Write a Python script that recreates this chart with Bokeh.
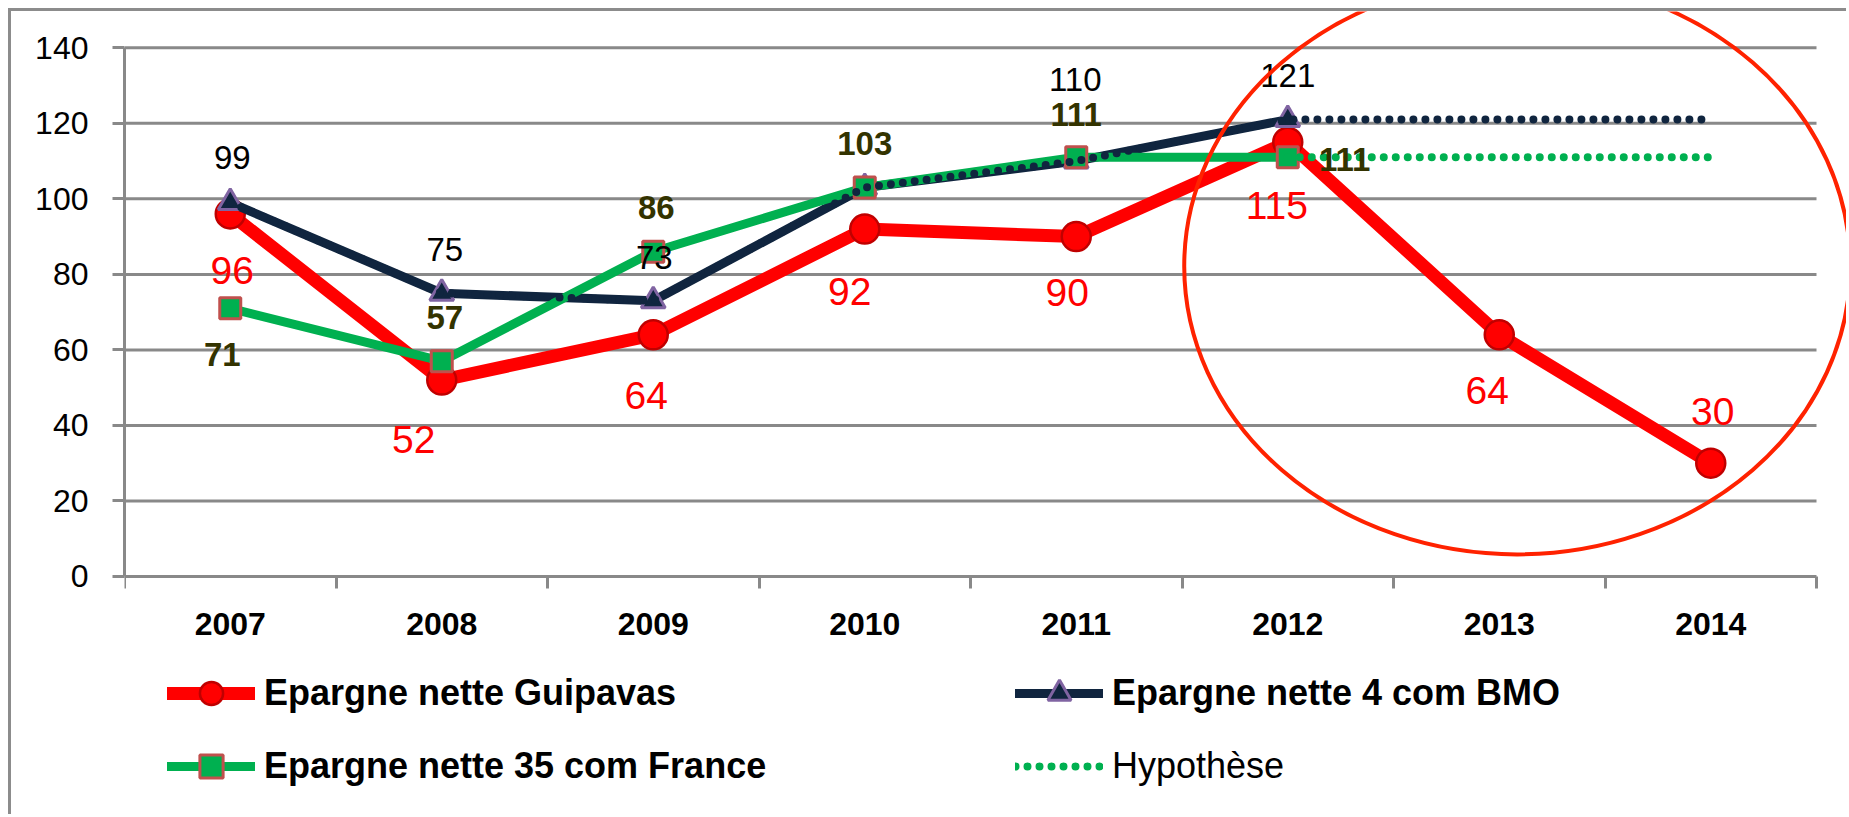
from bokeh.plotting import figure
from bokeh.models import Range1d, FixedTicker, Legend, LegendItem
from bokeh.core.properties import value
from bokeh.embed import file_html
from bokeh.resources import INLINE

# ---------------- data ----------------
years = ["2007", "2008", "2009", "2010", "2011", "2012", "2013", "2014"]
y_ticks = [0, 20, 40, 60, 80, 100, 120, 140]
guipavas = [96, 52, 64, 92, 90, 115, 64, 30]          # Epargne nette Guipavas
bmo4 = [99, 75, 73, 103, 110, 121]                    # Epargne nette 4 com BMO (2007-2012)
france35 = [71, 57, 86, 103, 111, 111]                # Epargne nette 35 com France (2007-2012)
hyp_years = ["2012", "2013", "2014"]
hyp_bmo4 = [121, 121, 121]                            # Hypothèse BMO
hyp_france35 = [111, 111, 111]                        # Hypothèse France
labels = ["Epargne nette Guipavas", "Epargne nette 4 com BMO",
          "Epargne nette 35 com France", "Hypothèse"]

# ---------------- styles ----------------
FONT = "Liberation Sans"
GRID = "#898989"
RED, RED_EDGE = "#FF0000", "#C00000"
NAVY, NAVY_EDGE = "#10253F", "#8064A2"
GREEN, GREEN_EDGE = "#00B050", "#C0504D"
OLIVE = "#333300"
W, H = 1838, 806

idx = {y: i for i, y in enumerate(years)}
xpos = [i + 0.5 for i in range(len(years))]
x_b = xpos[:len(bmo4)]
x_f = xpos[:len(france35)]
x_h = [idx[y] + 0.5 for y in hyp_years]

p = figure(width=W, height=H, output_backend="svg", toolbar_location=None,
           x_range=Range1d(0, 8.156), y_range=Range1d(-63.82, 149.61),
           min_border_left=113, min_border_right=0, min_border_top=0,
           min_border_bottom=0)
p.styles = {"margin-left": "8px", "margin-top": "8px",
            "border-left": "3px solid #8c8c8c", "border-top": "3px solid #8c8c8c"}
p.outline_line_color = None
p.background_fill_color = "white"
p.border_fill_color = "white"
p.xgrid.visible = False
p.ygrid.visible = False

# x axis at y = 0: labels at category centres, minor ticks at category boundaries
xa = p.xaxis[0]
xa.fixed_location = 0
xa.ticker = FixedTicker(ticks=xpos, minor_ticks=list(range(len(years) + 1)))
xa.major_label_overrides = {x: y for x, y in zip(xpos, years)}
xa.bounds = (0, len(years))
xa.axis_line_color = GRID
xa.axis_line_width = 3
xa.major_tick_line_color = None
xa.major_tick_out = 0
xa.major_tick_in = 0
xa.minor_tick_line_color = GRID
xa.minor_tick_line_width = 3
xa.minor_tick_out = 12
xa.minor_tick_in = 0
xa.major_label_text_font = FONT
xa.major_label_text_font_size = "32px"
xa.major_label_text_font_style = "bold"
xa.major_label_text_color = "black"
xa.major_label_standoff = 25

ya = p.yaxis[0]
ya.ticker = FixedTicker(ticks=y_ticks, minor_ticks=[])
ya.bounds = (0, 140)
ya.axis_line_color = GRID
ya.axis_line_width = 3
ya.major_tick_line_color = GRID
ya.major_tick_line_width = 3
ya.major_tick_out = 12
ya.major_tick_in = 0
ya.minor_tick_line_color = None
ya.major_label_text_font = FONT
ya.major_label_text_font_size = "32px"
ya.major_label_text_color = "black"
ya.major_label_standoff = 24

# horizontal gridlines across the category span
gl = y_ticks[1:]
p.segment(x0=[0] * len(gl), y0=gl, x1=[len(years)] * len(gl), y1=gl,
          line_color=GRID, line_width=3)

# ---------------- series ----------------
r_line = p.line(xpos, guipavas, line_color=RED, line_width=13, line_join="round", line_cap="round")
r_sc = p.scatter(xpos, guipavas, marker="circle", size=29, fill_color=RED,
                 line_color=RED_EDGE, line_width=2.5)

b_line = p.line(x_b, bmo4, line_color=NAVY, line_width=9, line_join="round", line_cap="round")
b_sc = p.scatter(x_b, bmo4, marker="triangle", size=24, fill_color=NAVY,
                 line_color=NAVY_EDGE, line_width=3)

g_line = p.line(x_f, france35, line_color=GREEN, line_width=9, line_join="round", line_cap="round")
g_sc = p.scatter(x_f, france35, marker="square", size=21, fill_color=GREEN,
                 line_color=GREEN_EDGE, line_width=3)

# hypothesis (dotted) lines
bmo_full = bmo4 + hyp_bmo4[1:]
p.line(xpos, bmo_full, line_color=NAVY, line_width=8, line_dash="0 12", line_cap="round")
h_line = p.line(x_h, hyp_france35, line_color=GREEN, line_width=8, line_dash="0 12",
                line_cap="round")

# ---------------- data labels ----------------
red_dx = [2, -28, -7, -15, -9, -11, -12, 2]
red_dy = [57, 59, 61, 62, 56, 63, 56, -52]
p.text(x=xpos, y=guipavas, text=[str(v) for v in guipavas],
       x_offset=red_dx, y_offset=red_dy, text_align="center", text_baseline="middle",
       text_font=value(FONT), text_font_size="39px", text_color=RED)

b_show = [0, 1, 2, 4, 5]
b_dx = [2, 3, 1, -1, 0]
b_dy = [-45, -44, -43, -82, -44]
p.text(x=[x_b[i] for i in b_show], y=[bmo4[i] for i in b_show],
       text=[str(bmo4[i]) for i in b_show], x_offset=b_dx, y_offset=b_dy,
       text_align="center", text_baseline="middle",
       text_font=value(FONT), text_font_size="33px", text_color="black")

g_dx = [-8, 3, 3, 0, 0, 57]
g_dy = [46, -44, -44, -44, -43, 2]
p.text(x=x_f, y=france35, text=[str(v) for v in france35],
       x_offset=g_dx, y_offset=g_dy, text_align="center", text_baseline="middle",
       text_font=value(FONT), text_font_size="33px", text_font_style="bold",
       text_color=OLIVE)

# highlight ellipse around the 2012-2014 period
p.ellipse(x=[6.585], y=[82.15], width=[3.149], height=[152.6],
          fill_color=None, line_color="#FF2200", line_width=4)

# ---------------- legends ----------------
def make_legend(items, loc, style="bold"):
    return Legend(items=items, location=loc, orientation="vertical",
                  glyph_width=88, glyph_height=58, label_height=58, spacing=15,
                  padding=0, margin=0, label_standoff=9,
                  background_fill_alpha=0, border_line_color=None,
                  label_text_font=FONT, label_text_font_size="36px",
                  label_text_font_style=style, label_text_color="black")

leg_a = make_legend([LegendItem(label=labels[0], renderers=[r_line, r_sc]),
                     LegendItem(label=labels[2], renderers=[g_line, g_sc])], (43, 22))
leg_b = make_legend([LegendItem(label=labels[1], renderers=[b_line, b_sc])], (891, 95))
leg_c = make_legend([LegendItem(label=labels[3], renderers=[h_line])], (891, 22), "normal")
for lg in (leg_a, leg_b, leg_c):
    p.add_layout(lg)

open("out.html", "w").write(file_html(p, INLINE))
